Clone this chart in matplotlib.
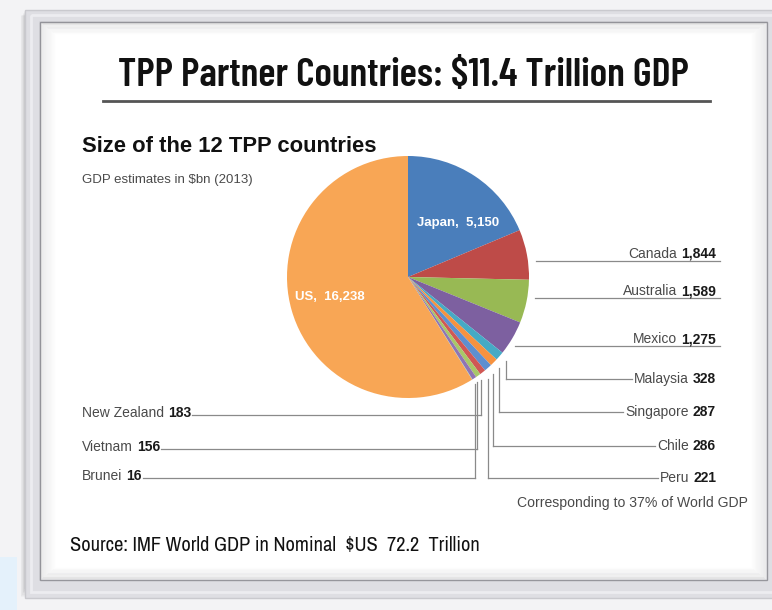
import matplotlib
matplotlib.use("Agg")
import matplotlib.pyplot as plt
from matplotlib.patches import Rectangle
import numpy as np

# GDP estimates in $bn (2013), in the order the slices are drawn (clockwise from 12 o'clock)
countries = ["Japan", "Canada", "Australia", "Mexico", "Malaysia", "Singapore",
             "Chile", "Peru", "New Zealand", "Vietnam", "Brunei", "US"]
gdp = [5150, 1844, 1589, 1275, 328, 287, 286, 221, 183, 156, 16, 16238]
colors = ["#4a7ebb", "#be4b48", "#98b954", "#7d60a0", "#46aac5", "#f69240",
          "#5d8fd0", "#d05854", "#a8c868", "#9074b3", "#5fbcd8", "#f8a655"]

# outside labels: which side and the height of the leader line
right_labels = ["Canada", "Australia", "Mexico", "Malaysia", "Singapore", "Chile", "Peru"]
right_line_y = [261, 298, 346, 379, 412, 446, 478]
left_labels = ["New Zealand", "Vietnam", "Brunei"]
left_line_y = [415, 449, 478]
inside_labels = ["Japan", "US"]
inside_pos = [(458, 223), (330, 297)]

W, H = 772, 610
fig = plt.figure(figsize=(W / 100, H / 100), dpi=100)
ax = fig.add_axes([0, 0, 1, 1])
fig.patch.set_facecolor("#f3f3f5")

sans = ["Liberation Sans", "DejaVu Sans"]
narrow = ["Liberation Sans Narrow", "Archivo Narrow", "Barlow Semi Condensed", "DejaVu Sans"]
cond_bold = ["Liberation Sans Narrow", "Barlow Condensed", "DejaVu Sans"]

# frame: shadow, grey mat, white card with an inner shadow
for k in range(8):
    ax.add_patch(Rectangle((25 - k * 0.6, 10 + k * 0.9), W, 578 + k * 0.4,
                           facecolor="#000000", alpha=0.025, lw=0, zorder=0))
ax.add_patch(Rectangle((25, 10), W, 588, facecolor="#dedee3", edgecolor="#c9c9ce",
                       lw=1, zorder=1))
ax.add_patch(Rectangle((31, 15), W, 577, facecolor="none", edgecolor="#ececf0",
                       lw=2, zorder=1))
ax.add_patch(Rectangle((40, 22), 727, 558, facecolor="white", edgecolor="#9a9aa0",
                       lw=1, zorder=1))
for k in range(16):
    ax.add_patch(Rectangle((40 + k, 22 + k * 0.8), 727 - 2 * k, 558 - 1.6 * k,
                           facecolor="none", edgecolor="#6d6d75",
                           alpha=0.09 * (1 - k / 16), lw=1.2, zorder=1))
ax.add_patch(Rectangle((0, 557), 17, 53, facecolor="#e4f1fb", lw=0, zorder=0))

# pie: y axis is flipped so that data coordinates are pixel coordinates
cx, cy, r = 408, 277, 121
wedges, _ = ax.pie(gdp, colors=colors, startangle=-90, counterclock=True,
                   center=(cx, cy), radius=r, wedgeprops=dict(linewidth=0))
for w in wedges:
    w.set_zorder(3)
ax.set_xlim(0, W)
ax.set_ylim(H, 0)
ax.set_aspect("equal")
ax.axis("off")

renderer = fig.canvas.get_renderer()


def width(t):
    return t.get_window_extent(renderer).width


def fit(t, target):
    # scale a text's font size so that it spans the wanted width
    t.set_fontsize(t.get_fontsize() * target / width(t))


def leader_start(name, ly, gap=8):
    # horizontal leader if the line height falls on the slice's rim, else a vertical drop
    w = wedges[countries.index(name)]
    y1 = cy + r * np.sin(np.radians(w.theta1))
    y2 = cy + r * np.sin(np.radians(w.theta2))
    if min(y1, y2) <= ly <= max(y1, y2):
        return cx + np.sqrt(r ** 2 - (ly - cy) ** 2) + gap, None
    mid = np.radians((w.theta1 + w.theta2) / 2)
    return cx + (r + gap) * np.cos(mid), cy + (r + gap) * np.sin(mid)


line_kw = dict(color="#8a8a8a", lw=0.9, zorder=2)
label_kw = dict(fontsize=10, family=sans, zorder=4)

# right-hand labels
for name, ly in zip(right_labels, right_line_y):
    x0, y0 = leader_start(name, ly)
    value = f"{gdp[countries.index(name)]:,}"
    under = ly < 350
    ty = ly - 3 if under else ly + 4
    v = ax.text(716, ty, value, ha="right", va="baseline", color="#1a1a1a",
                fontweight="bold", **label_kw)
    vw = width(v)
    n = ax.text(716 - vw - 4, ty, name, ha="right", va="baseline", color="#4a4a4a",
                **label_kw)
    end = 720 if under else 716 - vw - 4 - width(n) - 2
    if y0 is not None:
        ax.plot([x0, x0], [y0, ly], **line_kw)
    ax.plot([x0, end], [ly, ly], **line_kw)

# left-hand labels
for name, ly in zip(left_labels, left_line_y):
    x0, y0 = leader_start(name, ly, gap=5)
    value = f"{gdp[countries.index(name)]:,}"
    ty = ly + 2
    n = ax.text(82, ty, name, ha="left", va="baseline", color="#4a4a4a", **label_kw)
    nw = width(n)
    v = ax.text(82 + nw + 4, ty, value, ha="left", va="baseline", color="#1a1a1a",
                fontweight="bold", **label_kw)
    ax.plot([x0, x0], [y0, ly], **line_kw)
    ax.plot([82 + nw + 4 + width(v) + 1, x0], [ly, ly], **line_kw)

# labels inside the two largest slices
for name, (x, y) in zip(inside_labels, inside_pos):
    ax.text(x, y, f"{name},  {gdp[countries.index(name)]:,}", ha="center", va="center",
            color="white", fontsize=9.5, fontweight="bold", family=sans, zorder=4)

# titles and notes
title = ax.text(403, 76, "TPP Partner Countries: $11.4 Trillion GDP", ha="center",
                va="center", fontsize=26, fontweight="semibold", family=cond_bold,
                color="#111111", zorder=4)
fit(title, 571)
ax.plot([103, 710], [101, 101], color="#555555", lw=2, zorder=4)
sub = ax.text(82, 146, "Size of the 12 TPP countries", ha="left", va="center",
              fontsize=15, fontweight="bold", family=sans, color="#111111", zorder=4)
fit(sub, 296)
note = ax.text(82, 180, "GDP estimates in $bn (2013)", ha="left", va="center",
               fontsize=9.5, family=sans, color="#4a4a4a", zorder=4)
fit(note, 171)
share = ax.text(748, 503, "Corresponding to 37% of World GDP", ha="right", va="center",
                fontsize=10, family=sans, color="#4a4a4a", zorder=4)
fit(share, 231)
src = ax.text(70, 545, "Source: IMF World GDP in Nominal  $US  72.2  Trillion", ha="left",
              va="center", fontsize=12.5, family=narrow, color="#111111", zorder=4)
fit(src, 413)

fig.savefig("out.png", dpi=100, facecolor=fig.get_facecolor())
